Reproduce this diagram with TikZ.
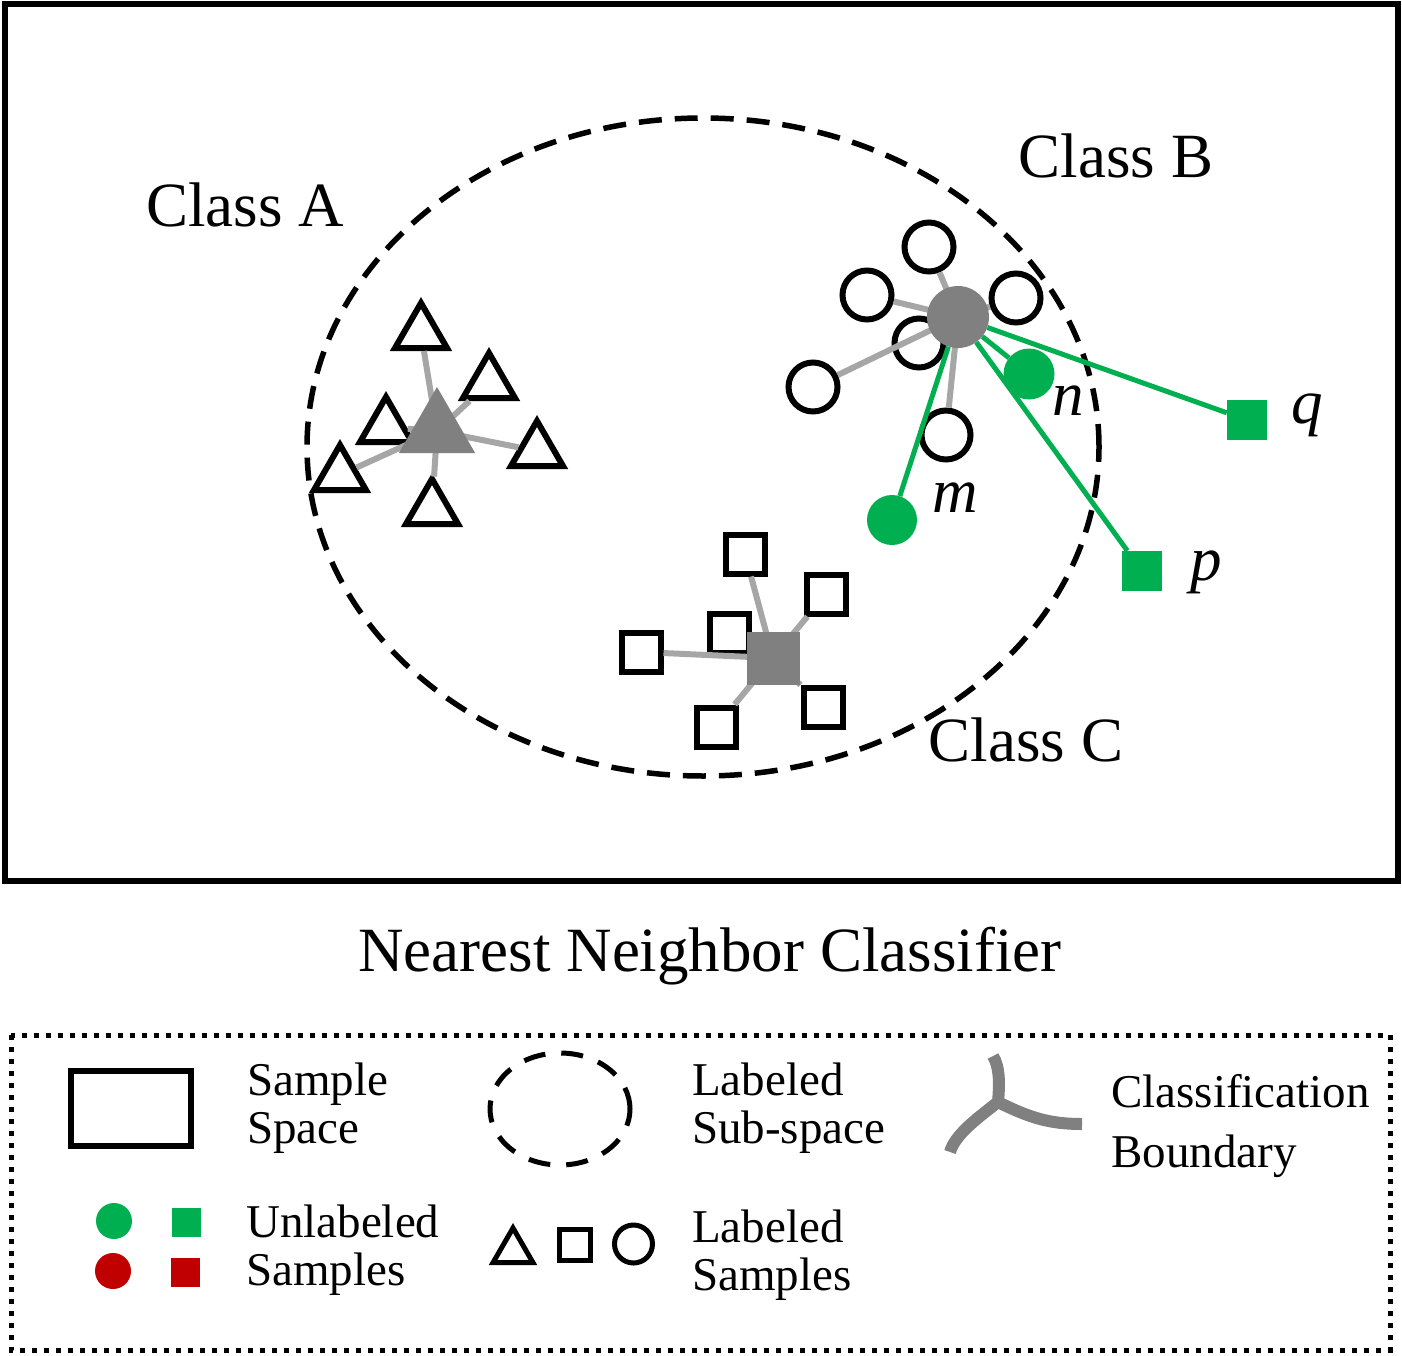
\documentclass[tikz,border=0pt]{standalone}
\usepackage{fontspec}
\setmainfont{Liberation Serif}
\usetikzlibrary{shapes.geometric}
\definecolor{ugreen}{HTML}{00B050}
\definecolor{ured}{HTML}{C00000}
\definecolor{cgray}{HTML}{808080}
\definecolor{lgray}{HTML}{A6A6A6}

\begin{document}
\begin{tikzpicture}[x=1pt,y=-1pt]
\tikzstyle{lab}= [draw,line width=6pt,fill=white,inner sep=0pt]
\tikzstyle{tri}= [lab,regular polygon,regular polygon sides=3,minimum size=60pt]
\tikzstyle{sqr}= [lab,rectangle,minimum size=39pt]
\tikzstyle{rnd}= [lab,circle,minimum size=49pt]
\tikzstyle{cen}= [fill=cgray,inner sep=0pt]
\tikzstyle{unl}= [fill=ugreen,inner sep=0pt]
\tikzstyle{nb}= [line width=6pt,lgray]
\tikzstyle{nn}= [line width=5pt,ugreen]
\tikzstyle{big}= [font=\fontsize{63}{70}\selectfont,inner sep=0pt,anchor=base]
\tikzstyle{leg}= [font=\fontsize{47}{48}\selectfont,inner sep=0pt,anchor=base west]

\useasboundingbox (0,0) rectangle (1402,1356);

% sample space and labeled sub-space
\draw[line width=6pt] (4.5,4) rectangle (1397.5,881);
\draw[line width=5.5pt,dash pattern=on 23pt off 13pt] (703,447) ellipse [x radius=396pt,y radius=329pt];

\path
	(245,227) node[big] (clsA) {Class A}
	(1116,178) node[big] (clsB) {Class B}
	(1026,761) node[big] (clsC) {Class C}
	(710,971) node[big] (title) {Nearest Neighbor Classifier}
;

% class A
\coordinate (cA) at (437,431);
\path
	(421,333) node[tri] (a1) {}
	(489,383) node[tri] (a2) {}
	(386,427) node[tri] (a3) {}
	(537,451) node[tri] (a4) {}
	(340,475) node[tri] (a5) {}
	(432,509) node[tri] (a6) {}
;
\foreach \s in {a1,a2,a3,a4,a5,a6}
	\draw[nb] (cA) -- (\s);
\node[cen,regular polygon,regular polygon sides=3,minimum size=88pt] (gA) at (cA) {};

% class B
\coordinate (cB) at (958,317);
\path
	(929,247) node[rnd] (b1) {}
	(867,295) node[rnd] (b2) {}
	(1016,298) node[rnd] (b3) {}
	(919,343) node[rnd] (b4) {}
	(813,387) node[rnd] (b5) {}
	(946,435) node[rnd] (b6) {}
;
\foreach \s in {b1,b2,b3,b4,b5,b6}
	\draw[nb] (cB) -- (\s);
\node[cen,circle,minimum size=62pt] (gB) at (cB) {};

% class C
\coordinate (cC) at (773,658);
\path
	(745,554) node[sqr] (c1) {}
	(826,594) node[sqr] (c2) {}
	(729,633) node[sqr] (c3) {}
	(641,652) node[sqr] (c4) {}
	(716,727) node[sqr] (c5) {}
	(823,707) node[sqr] (c6) {}
;
\foreach \s in {c1,c2,c3,c4,c5,c6}
	\draw[nb] (cC) -- (\s);
\node[cen,rectangle,minimum size=53pt] (gC) at (cC) {};

% unlabeled samples
\path
	(1029,374) node[unl,circle,minimum size=51pt] (n) {}
	(892,520) node[unl,circle,minimum size=50pt] (m) {}
	(1142,571) node[unl,rectangle,minimum size=40pt] (p) {}
	(1247,420) node[unl,rectangle,minimum size=40pt] (q) {}
;
\foreach \s in {n,m,p,q}
	\draw[nn] (gB) -- (\s);
\path
	(1068,415) node[big] (ln) {\textit{n}}
	(955,512) node[big] (lm) {\textit{m}}
	(1206,580) node[big] (lp) {\textit{p}}
	(1307,423) node[big] (lq) {\textit{q}}
;

% legend
\draw[line width=5pt,dash pattern=on 5pt off 7pt] (11,1035) rectangle (1390,1350);
\draw[line width=6pt] (70.5,1070.5) rectangle (190.5,1145.5);
\draw[line width=5pt,dash pattern=on 22pt off 16pt] (560,1109) ellipse [x radius=70pt,y radius=56pt];
\draw[cgray,line width=12pt] (993,1056) .. controls (999,1066) and (1000,1080) .. (998,1102);
\draw[cgray,line width=12pt] (998,1102) .. controls (975,1120) and (955,1135) .. (950,1152);
\draw[cgray,line width=12pt] (998,1102) .. controls (1030,1118) and (1050,1124) .. (1082,1124);
\path
	(114,1221) node[unl,circle,minimum size=36pt] (lgc) {}
	(186,1222) node[unl,rectangle,minimum size=29pt] (lgs) {}
	(113,1271) node[fill=ured,inner sep=0pt,circle,minimum size=36pt] (lrc) {}
	(185,1272) node[fill=ured,inner sep=0pt,rectangle,minimum size=29pt] (lrs) {}
	(513,1251) node[tri,line width=5pt,minimum size=46pt] (lt) {}
	(575,1245) node[sqr,line width=5pt,minimum size=31pt] (ls) {}
	(633.5,1244) node[rnd,line width=5pt,minimum size=38pt] (lc) {}
;
\path
	(247,1095) node[leg] (t1) {Sample}
	(247,1143) node[leg] (t2) {Space}
	(692,1095) node[leg] (t3) {Labeled}
	(692,1143) node[leg] (t4) {Sub-space}
	(1111,1107) node[leg] (t5) {Classification}
	(1111,1167) node[leg] (t6) {Boundary}
	(246,1237) node[leg] (t7) {Unlabeled}
	(246,1285) node[leg] (t8) {Samples}
	(692,1242) node[leg] (t9) {Labeled}
	(692,1290) node[leg] (t10) {Samples}
;
\end{tikzpicture}
\end{document}
